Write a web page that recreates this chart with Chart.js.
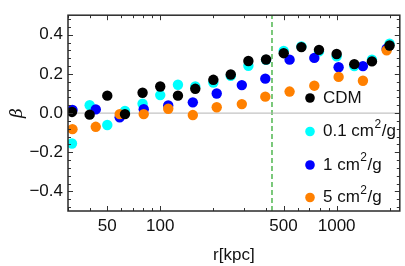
<!DOCTYPE html>
<html>
<head>
<meta charset="utf-8">
<script src="https://cdn.jsdelivr.net/npm/chart.js@4.4.0/dist/chart.umd.min.js"></script>
<style>
    body { margin: 0; background: #fff; }
    #box { width: 405px; height: 266px; }
</style>
</head>
<body>
<div id="box"><canvas id="chart" width="405" height="266"></canvas></div>
<script>
// radial bins, kpc
let r_cdm = [31.6, 39.8, 50.1, 63.1, 79.4, 100, 126, 158, 200, 251, 316, 398, 501, 631, 794, 1000, 1259, 1585, 1995]
let r_sidm = [31.8, 43.1, 58.9, 80.6, 111, 153, 209, 290, 394, 541, 747, 1026, 1409, 1921]

// anisotropy beta
let beta_cdm = [0.006, -0.008, 0.089, -0.005, 0.104, 0.136, 0.089, 0.124, 0.170, 0.197, 0.266, 0.274, 0.306, 0.337, 0.323, 0.302, 0.250, 0.264, 0.345]
let beta_01 = [-0.155, 0.040, -0.061, 0.011, 0.048, 0.092, 0.145, 0.136, 0.156, 0.190, 0.242, 0.272, 0.318, 0.340, 0.315, 0.290, 0.240, 0.273, 0.355]
let beta_1 = [0.016, 0.019, -0.021, 0.020, 0.039, 0.055, 0.100, 0.143, 0.176, 0.273, 0.282, 0.234, 0.240, 0.329]
let beta_5 = [-0.082, -0.070, -0.005, -0.005, 0.022, -0.010, 0.030, 0.046, 0.084, 0.110, 0.140, 0.185, 0.165, 0.321]

let series_names = ["CDM", "0.1 cm", "1 cm", "5 cm"]
let series_colors = ["#000000", "#00ffff", "#0000ff", "#ff8000"]

let r_dashed = 430
let x_range = [30, 2280]
let y_range = [-0.5, 0.5]

let x_ticks = [50, 100, 500, 1000]
let x_minor = [30, 40, 60, 70, 80, 90, 200, 300, 400, 600, 700, 800, 900, 2000]
let y_ticks = [-0.4, -0.2, 0, 0.2, 0.4]
let y_minor = [-0.48, -0.44, -0.36, -0.32, -0.28, -0.24, -0.16, -0.12, -0.08, -0.04,
               0.04, 0.08, 0.12, 0.16, 0.24, 0.28, 0.32, 0.36, 0.44, 0.48]

let font_family = "'Liberation Sans', Arial, sans-serif"

function toPoints(xs, ys) {
    return xs.map((x, i) => ({x: x, y: ys[i]}))
}

function pointSet(label, xs, ys, color) {
    return {
        label: label,
        data: toPoints(xs, ys),
        backgroundColor: color,
        borderColor: color,
        borderWidth: 0,
        pointRadius: 5.2,
        showLine: false
    }
}

// frame with inward ticks, like the original plot
let framePlugin = {
    id: "frame",
    afterDatasetsDraw(chart) {
        let ctx = chart.ctx
        let a = chart.chartArea
        let xs = chart.scales.x
        let ys = chart.scales.y
        ctx.save()
        ctx.strokeStyle = "#333"
        ctx.lineWidth = 1
        function tickX(v, len) {
            let p = Math.round(xs.getPixelForValue(v)) + 0.5
            ctx.beginPath()
            ctx.moveTo(p, a.bottom); ctx.lineTo(p, a.bottom - len)
            ctx.moveTo(p, a.top); ctx.lineTo(p, a.top + len)
            ctx.stroke()
        }
        function tickY(v, len) {
            let p = Math.round(ys.getPixelForValue(v)) + 0.5
            ctx.beginPath()
            ctx.moveTo(a.left, p); ctx.lineTo(a.left + len, p)
            ctx.moveTo(a.right, p); ctx.lineTo(a.right - len, p)
            ctx.stroke()
        }
        x_ticks.forEach(v => tickX(v, 5))
        x_minor.forEach(v => tickX(v, 3))
        y_ticks.forEach(v => tickY(v, 5))
        y_minor.forEach(v => tickY(v, 3))
        ctx.lineWidth = 1.5
        ctx.strokeStyle = "#2a2a2a"
        ctx.strokeRect(a.left, a.top, a.right - a.left, a.bottom - a.top)
        ctx.restore()
    }
}

// legend inside the plot, with cm^2/g
let legendPlugin = {
    id: "innerLegend",
    afterDraw(chart) {
        let ctx = chart.ctx
        let rows = [98, 131.5, 165, 197.5]
        ctx.save()
        ctx.textBaseline = "middle"
        for (let i = 0; i < series_names.length; i++) {
            let y = rows[i]
            ctx.fillStyle = series_colors[i]
            ctx.beginPath()
            ctx.arc(310, y, 4.8, 0, Math.PI * 2)
            ctx.fill()
            ctx.fillStyle = "#111"
            ctx.font = "17px " + font_family
            let x = 323
            ctx.fillText(series_names[i], x, y)
            if (i > 0) {
                x += ctx.measureText(series_names[i]).width + 0.5
                ctx.font = "12px " + font_family
                ctx.fillText("2", x, y - 7)
                x += ctx.measureText("2").width + 0.5
                ctx.font = "17px " + font_family
                ctx.fillText("/g", x, y)
            }
        }
        ctx.restore()
    }
}

let datasets = [
    pointSet(series_names[0], r_cdm, beta_cdm, series_colors[0]),
    pointSet(series_names[3], r_sidm, beta_5, series_colors[3]),
    pointSet(series_names[2], r_sidm, beta_1, series_colors[2]),
    pointSet(series_names[1], r_cdm, beta_01, series_colors[1]),
    {
        label: "zero",
        data: toPoints(x_range, [0, 0]),
        showLine: true,
        borderColor: "#b4b4b4",
        borderWidth: 1,
        pointRadius: 0
    },
    {
        label: "dashed",
        data: toPoints([r_dashed, r_dashed], y_range),
        showLine: true,
        borderColor: "#22a522",
        borderWidth: 1.2,
        borderDash: [5, 3],
        pointRadius: 0
    }
]

let chart = new Chart(document.getElementById("chart").getContext("2d"), {
    type: "scatter",
    data: { datasets: datasets },
    options: {
        responsive: false,
        animation: false,
        layout: { padding: { left: 0, right: 2, top: 4, bottom: 0 } },
        plugins: { legend: { display: false }, tooltip: { enabled: false } },
        scales: {
            x: {
                type: "logarithmic",
                min: x_range[0],
                max: x_range[1],
                grid: { display: false, drawTicks: false },
                border: { display: false },
                afterBuildTicks: s => { s.ticks = x_ticks.map(v => ({ value: v })) },
                afterFit: s => { s.height = 55 },
                ticks: {
                    autoSkip: false,
                    maxRotation: 0,
                    padding: 5,
                    color: "#111",
                    font: { size: 17, family: font_family },
                    callback: v => String(v)
                },
                title: {
                    display: true,
                    text: "r[kpc]",
                    color: "#111",
                    font: { size: 17, family: font_family },
                    padding: { top: 0, bottom: 0 }
                }
            },
            y: {
                min: y_range[0],
                max: y_range[1],
                grid: { display: false, drawTicks: false },
                border: { display: false },
                afterBuildTicks: s => { s.ticks = y_ticks.map(v => ({ value: v })) },
                afterFit: s => { s.width = 68 },
                ticks: {
                    autoSkip: false,
                    padding: 5,
                    color: "#111",
                    font: { size: 17, family: font_family },
                    callback: v => (v < 0 ? "\u2212" : "") + Math.abs(v).toFixed(1)
                },
                title: {
                    display: true,
                    text: "β",
                    color: "#111",
                    font: { size: 17, style: "italic", family: "'DejaVu Serif', serif" },
                    padding: { top: 7, bottom: 0 }
                }
            }
        }
    },
    plugins: [framePlugin, legendPlugin]
})
</script>
</body>
</html>
